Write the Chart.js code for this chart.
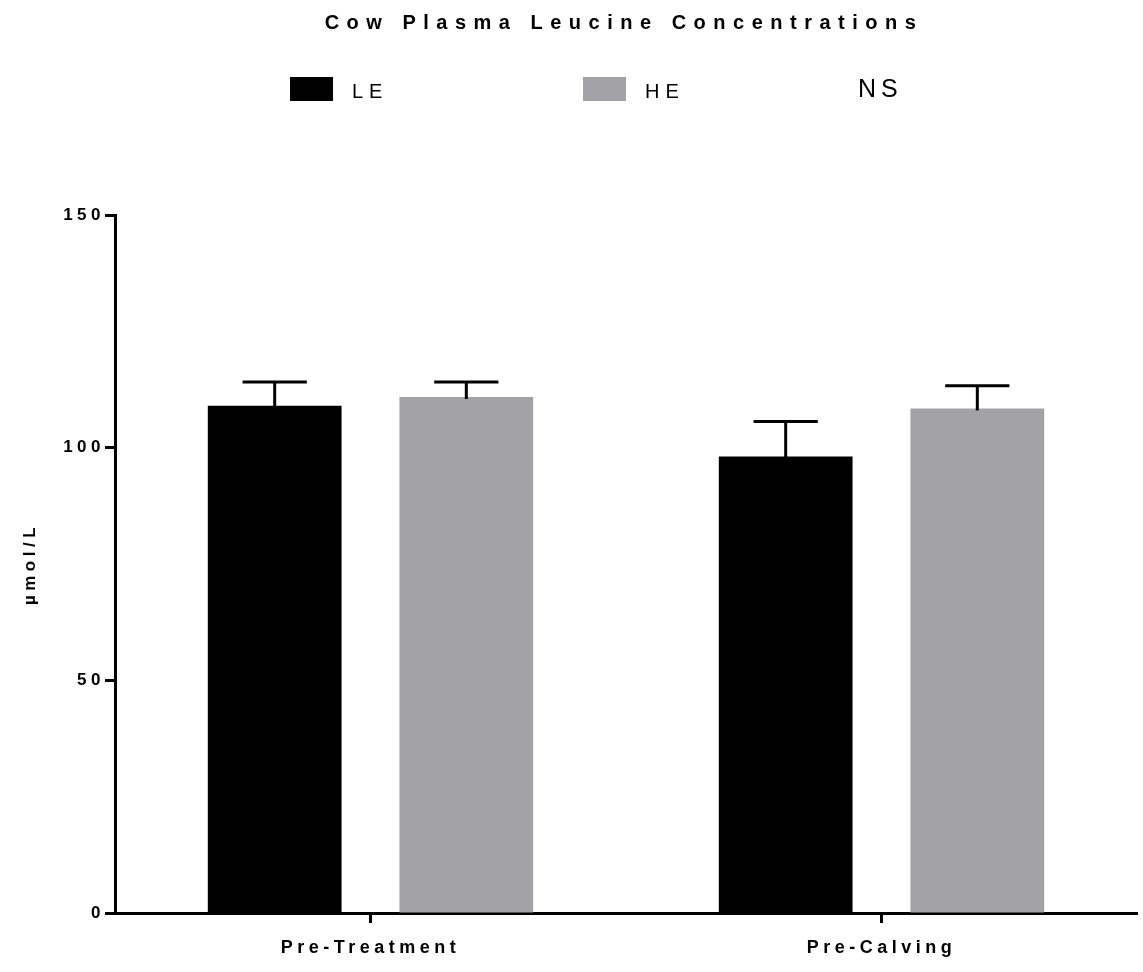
<!DOCTYPE html>
<html lang="en">
<head>
  <meta charset="UTF-8">
  <title>Cow Plasma Leucine Concentrations</title>
  <script src="https://cdn.jsdelivr.net/npm/chart.js"></script>
  <style>
    body {
      margin: 0;
      background-color: #fff;
    }

    #wrap {
      width: 1143px;
      height: 972px;
      position: relative;
    }
  </style>
</head>
<body>
  <div id="wrap"><canvas id="myChart"></canvas></div>

  <script>
    const titleText = 'Cow Plasma Leucine Concentrations';
    const yLabel = 'µmol/L';
    const categories = ['Pre-Treatment', 'Pre-Calving'];
    const seriesNames = ['LE', 'HE'];
    const noteText = 'NS';
    const leMeans = [109.0, 98.1];
    const leErrors = [5.1, 7.5];
    const heMeans = [110.9, 108.4];
    const heErrors = [3.2, 4.9];
    const yTicks = [0, 50, 100, 150];

    const FONT = "'Liberation Sans', Arial, sans-serif";
    const BLACK = '#000000';
    const GREY = '#a3a2a7';

    // upward-only error bars (mean + SEM)
    const errorBars = {
      id: 'errorBars',
      afterDatasetsDraw(chart) {
        const ctx = chart.ctx;
        const yScale = chart.scales.y;
        ctx.save();
        ctx.strokeStyle = BLACK;
        ctx.lineWidth = 3;
        chart.data.datasets.forEach((ds, di) => {
          const meta = chart.getDatasetMeta(di);
          meta.data.forEach((bar, i) => {
            const top = yScale.getPixelForValue(ds.data[i] + ds.errors[i]);
            const half = bar.width * 0.24;
            ctx.beginPath();
            ctx.moveTo(bar.x, bar.y + 2);
            ctx.lineTo(bar.x, top);
            ctx.moveTo(bar.x - half, top);
            ctx.lineTo(bar.x + half, top);
            ctx.stroke();
          });
        });
        ctx.restore();
      }
    };

    // title + legend row, drawn by hand because of the spaced-out lettering
    const header = {
      id: 'header',
      beforeDraw(chart) {
        chart.ctx.letterSpacing = '4.5px';
      },
      afterDraw(chart) {
        const ctx = chart.ctx;
        const area = chart.chartArea;
        ctx.save();
        ctx.fillStyle = BLACK;
        ctx.textBaseline = 'middle';

        ctx.font = 'bold 20px ' + FONT;
        ctx.letterSpacing = '7.5px';
        ctx.textAlign = 'center';
        ctx.fillText(titleText, (area.left + area.right) / 2 - 2, 23);

        ctx.textAlign = 'left';
        ctx.font = '20px ' + FONT;
        ctx.letterSpacing = '6px';
        const boxX = [290, 583];
        chart.data.datasets.forEach((ds, i) => {
          ctx.fillStyle = ds.backgroundColor;
          ctx.fillRect(boxX[i], 77, 43, 24);
          ctx.fillStyle = BLACK;
          ctx.fillText(ds.label, boxX[i] + 62, 92);
        });

        ctx.font = '25px ' + FONT;
        ctx.letterSpacing = '5px';
        ctx.fillText(noteText, 858, 90);
        ctx.restore();
      }
    };

    const ctx = document.getElementById('myChart').getContext('2d');
    new Chart(ctx, {
      type: 'bar',
      data: {
        labels: categories,
        datasets: [
          {
            label: seriesNames[0],
            data: leMeans,
            errors: leErrors,
            backgroundColor: BLACK,
            borderWidth: 0,
            barPercentage: 0.698,
            categoryPercentage: 0.75
          },
          {
            label: seriesNames[1],
            data: heMeans,
            errors: heErrors,
            backgroundColor: GREY,
            borderWidth: 0,
            barPercentage: 0.698,
            categoryPercentage: 0.75
          }
        ]
      },
      options: {
        responsive: true,
        maintainAspectRatio: false,
        animation: false,
        layout: {
          padding: { top: 215, left: 20, right: 6, bottom: 0 }
        },
        plugins: {
          legend: { display: false },
          title: { display: false },
          tooltip: { enabled: false }
        },
        scales: {
          x: {
            grid: {
              display: true,
              offset: false,
              drawOnChartArea: false,
              drawTicks: true,
              tickLength: 10,
              tickWidth: 3,
              tickColor: BLACK
            },
            border: { display: true, width: 3, color: BLACK },
            ticks: {
              color: BLACK,
              font: { family: FONT, size: 18, weight: 'bold' },
              padding: 14,
              maxRotation: 0
            },
            afterFit(scale) {
              scale.height = 59;
            }
          },
          y: {
            min: 0,
            max: 150,
            afterBuildTicks(scale) {
              scale.ticks = yTicks.map(v => ({ value: v }));
            },
            grid: {
              display: true,
              drawOnChartArea: false,
              drawTicks: true,
              tickLength: 10,
              tickWidth: 3,
              tickColor: BLACK
            },
            border: { display: true, width: 3, color: BLACK },
            ticks: {
              color: BLACK,
              font: { family: FONT, size: 17, weight: 'bold' },
              padding: 0
            },
            title: {
              display: true,
              text: yLabel,
              color: BLACK,
              font: { family: FONT, size: 17, weight: 'bold' },
              padding: 0
            },
            afterFit(scale) {
              scale.width = 95;
            }
          }
        }
      },
      plugins: [errorBars, header]
    });
  </script>
</body>
</html>
